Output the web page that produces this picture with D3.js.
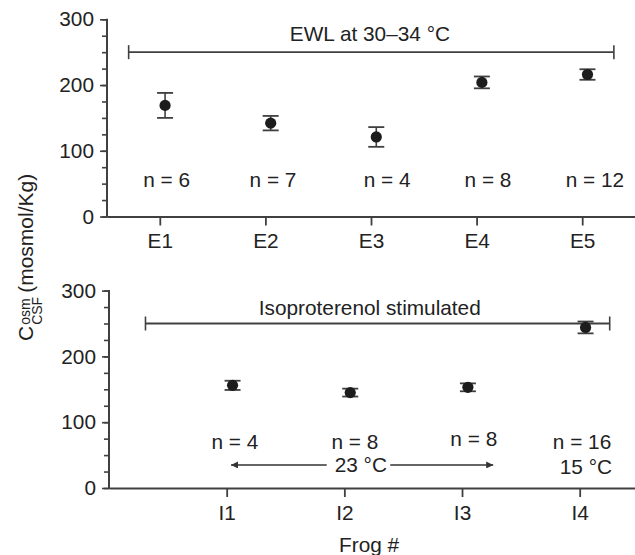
<!DOCTYPE html>
<html>
<head>
<meta charset="utf-8">
<script src="https://cdn.jsdelivr.net/npm/d3@7"></script>
<style>
  html, body { margin: 0; padding: 0; background: #fff; }
  svg text { font-family: "Liberation Sans", Arial, Helvetica, sans-serif; fill: #222; }
</style>
</head>
<body>
<svg id="chart" width="635" height="555"></svg>
<script>
// ---------- data ----------
const topCategories = ["E1", "E2", "E3", "E4", "E5"];
const topMeans      = [169, 142, 121, 204, 216];
const topErrors     = [19, 11, 15, 9, 8];
const topN          = [6, 7, 4, 8, 12];

const bottomCategories = ["I1", "I2", "I3", "I4"];
const bottomMeans      = [156, 145, 153, 244];
const bottomErrors     = [7, 6, 6, 9];
const bottomN          = [4, 8, 8, 16];

const yMajorTicks = [0, 100, 200, 300];
const yMinorTicks = d3.range(0, 301, 25);

const topTitle = "EWL at 30\u201334 \u00B0C";
const bottomTitle = "Isoproterenol stimulated";
const xLabel = "Frog #";

// ---------- drawing ----------
const svg = d3.select("#chart");
const W = 635;
const axisColor = "#404040";
const dotColor = "#1c1c1c";
const FS = 20.8;

function drawYAxis(g, y, x0) {
  const minor = d3.axisLeft(y).tickValues(yMinorTicks).tickSize(5).tickFormat("");
  const major = d3.axisLeft(y).tickValues(yMajorTicks).tickSize(7).tickPadding(6).tickSizeOuter(0);
  const gm = g.append("g").attr("transform", `translate(${x0},0)`).call(minor);
  const gM = g.append("g").attr("transform", `translate(${x0},0)`).call(major);
  [gm, gM].forEach(a => {
    a.select(".domain").remove();
    a.selectAll("line").attr("stroke", axisColor).attr("stroke-width", 1.6);
  });
  gM.selectAll("text").style("font-size", FS + "px").attr("fill", "#222");
  g.append("line").attr("x1", x0).attr("x2", x0)
    .attr("y1", y(0) + 1).attr("y2", y(300) - 0.5)
    .attr("stroke", axisColor).attr("stroke-width", 2);
}

function drawXAxis(g, x, y, cats, positions) {
  const ax = d3.axisBottom(x).tickValues(positions).tickSize(9).tickPadding(8)
    .tickSizeOuter(0).tickFormat((d, i) => cats[i]);
  const ga = g.append("g").attr("transform", `translate(0,${y(0)})`).call(ax);
  ga.select(".domain").attr("stroke", axisColor).attr("stroke-width", 2.2);
  ga.selectAll(".tick line").attr("stroke", axisColor).attr("stroke-width", 1.8);
  ga.selectAll("text").style("font-size", FS + "px").attr("fill", "#222");
}

function drawPoints(g, x, y, positions, means, errs) {
  const capW = 8;
  const pts = g.append("g");
  positions.forEach((p, i) => {
    const cx = x(p + 0.05);
    const m = means[i], e = errs[i];
    pts.append("line").attr("x1", cx).attr("x2", cx)
      .attr("y1", y(m - e)).attr("y2", y(m + e))
      .attr("stroke", axisColor).attr("stroke-width", 1.6);
    [m - e, m + e].forEach(v => {
      pts.append("line").attr("x1", cx - capW).attr("x2", cx + capW)
        .attr("y1", y(v)).attr("y2", y(v))
        .attr("stroke", axisColor).attr("stroke-width", 1.8);
    });
    pts.append("circle").attr("cx", cx).attr("cy", y(m)).attr("r", 5.6).attr("fill", dotColor);
  });
}

function drawBracket(g, x, y, x1, x2, v) {
  const yy = y(v);
  g.append("line").attr("x1", x(x1)).attr("x2", x(x2)).attr("y1", yy).attr("y2", yy)
    .attr("stroke", axisColor).attr("stroke-width", 1.8);
  [x1, x2].forEach(xx => {
    g.append("line").attr("x1", x(xx)).attr("x2", x(xx)).attr("y1", yy - 7).attr("y2", yy + 7)
      .attr("stroke", axisColor).attr("stroke-width", 1.6);
  });
}

// ---------- top panel ----------
const gTop = svg.append("g");
const xTop = d3.scaleLinear().domain([0, 5]).range([107, W]);
const yTop = d3.scaleLinear().domain([0, 300]).range([216.5, 19.3]);
const topPos = topCategories.map((c, i) => i + 0.5);

drawBracket(gTop, xTop, yTop, 0.205, 4.8, 250);
gTop.append("text").attr("x", xTop(2.49)).attr("y", yTop(267))
  .attr("text-anchor", "middle").style("font-size", FS + "px").text(topTitle);
drawPoints(gTop, xTop, yTop, topPos, topMeans, topErrors);
const topNOffsets = [0.065, 0.072, 0.152, 0.108, 0.121];
topN.forEach((n, i) => {
  gTop.append("text").attr("x", xTop(topPos[i] + topNOffsets[i])).attr("y", yTop(45))
    .attr("text-anchor", "middle").style("font-size", FS + "px").text("n = " + n);
});
drawXAxis(gTop, xTop, yTop, topCategories, topPos);
drawYAxis(gTop, yTop, 107);

// ---------- bottom panel ----------
const gBot = svg.append("g");
const xBot = d3.scaleLinear().domain([0, 4.47]).range([109, W]);
const yBot = d3.scaleLinear().domain([0, 300]).range([488, 290.6]);
const botPos = bottomCategories.map((c, i) => i + 1);

drawBracket(gBot, xBot, yBot, 0.31, 4.255, 250);
gBot.append("text").attr("x", xBot(2.216)).attr("y", yBot(263))
  .attr("text-anchor", "middle").style("font-size", FS + "px").text(bottomTitle);
drawPoints(gBot, xBot, yBot, botPos, bottomMeans, bottomErrors);
const botNOffsets = [0.07, 0.09, 0.1, 0.02];
const botNVals = [59, 59, 64, 59];
bottomN.forEach((n, i) => {
  gBot.append("text").attr("x", xBot(botPos[i] + botNOffsets[i])).attr("y", yBot(botNVals[i]))
    .attr("text-anchor", "middle").style("font-size", FS + "px").text("n = " + n);
});
gBot.append("text").attr("x", xBot(4.275)).attr("y", yBot(21))
  .attr("text-anchor", "end").style("font-size", FS + "px").text("15 \u00B0C");

// 23 °C double arrow
const defs = svg.append("defs");
defs.append("marker").attr("id", "arrowHead").attr("viewBox", "0 0 10 10")
  .attr("refX", 10).attr("refY", 5).attr("markerWidth", 12).attr("markerHeight", 7)
  .attr("markerUnits", "userSpaceOnUse").attr("orient", "auto-start-reverse")
  .append("path").attr("d", "M0,0 L10,5 L0,10 Z").attr("fill", "#333");
const arrowY = yBot(35);
gBot.append("line").attr("x1", xBot(1.037)).attr("x2", xBot(1.85)).attr("y1", arrowY).attr("y2", arrowY)
  .attr("stroke", "#333").attr("stroke-width", 1.4).attr("marker-start", "url(#arrowHead)");
gBot.append("line").attr("x1", xBot(2.39)).attr("x2", xBot(3.265)).attr("y1", arrowY).attr("y2", arrowY)
  .attr("stroke", "#333").attr("stroke-width", 1.4).attr("marker-end", "url(#arrowHead)");
gBot.append("text").attr("x", xBot(2.14)).attr("y", arrowY + 7)
  .attr("text-anchor", "middle").style("font-size", FS + "px").text("23 \u00B0C");

drawXAxis(gBot, xBot, yBot, bottomCategories, botPos);
drawYAxis(gBot, yBot, 109);

svg.append("text").attr("x", xBot(2.21)).attr("y", 552)
  .attr("text-anchor", "middle").style("font-size", FS + "px").text(xLabel);

// ---------- y label ----------
const yl = svg.append("g").attr("transform", "translate(33,341) rotate(-90)");
const cT = yl.append("text").attr("x", 0).attr("y", 0).style("font-size", "21px").text("C");
const cw = cT.node().getComputedTextLength();
const sup = yl.append("text").attr("x", cw + 1).attr("y", -3).style("font-size", "14px").text("osm");
const sub = yl.append("text").attr("x", cw + 1).attr("y", 9).style("font-size", "14px").text("CSF");
const sw = Math.max(sup.node().getComputedTextLength(), sub.node().getComputedTextLength());
yl.append("text").attr("x", cw + sw + 5).attr("y", 0).style("font-size", "21px").text("(mosmol/Kg)");
</script>
</body>
</html>
